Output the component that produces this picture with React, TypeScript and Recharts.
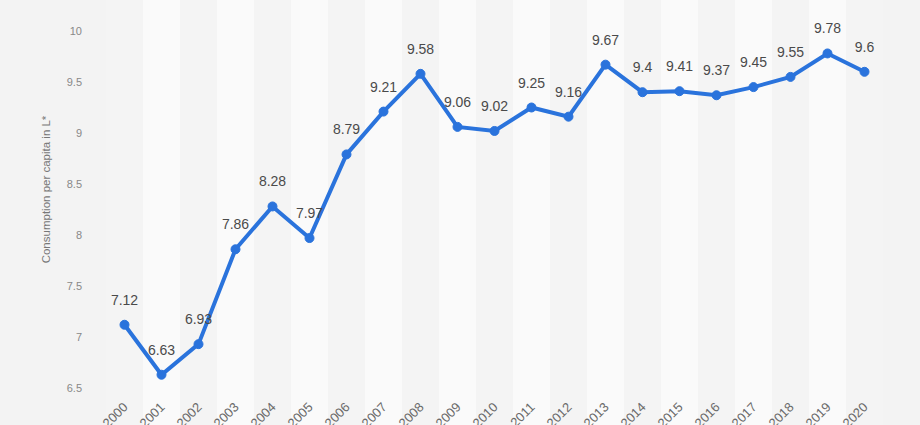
import React from 'react';
import { ComposedChart, Line, Bar, XAxis, YAxis, CartesianGrid, LabelList, Label } from 'recharts';

const years = ['2000', '2001', '2002', '2003', '2004', '2005', '2006', '2007', '2008', '2009', '2010',
    '2011', '2012', '2013', '2014', '2015', '2016', '2017', '2018', '2019', '2020'];
const consumption = [7.12, 6.63, 6.93, 7.86, 8.28, 7.97, 8.79, 9.21, 9.58, 9.06, 9.02,
    9.25, 9.16, 9.67, 9.4, 9.41, 9.37, 9.45, 9.55, 9.78, 9.6];
const yTicks = [6.5, 7, 7.5, 8, 8.5, 9, 9.5, 10];

const font = '"Liberation Sans", Arial, Helvetica, sans-serif';

// column stripes drawn full height behind the plot
const Stripe = (props: any) => {
    const { x, width, index } = props;
    return <rect x={x} y={0} width={width} height={425} fill={index % 2 === 1 ? '#fafafa' : '#f4f4f4'} />;
};

const XTick = (props: any) => {
    const { x, y, payload } = props;
    return (
        <text x={x + 4} y={y + 12} transform={`rotate(-45, ${x + 4}, ${y + 12})`} textAnchor="end"
            fontSize={13} fill="#6a6a6a" fontFamily={font}>
            {payload.value}
        </text>
    );
};

const YTitle = (props: any) => {
    const { viewBox } = props;
    const cx = viewBox.x + 50;
    const cy = viewBox.y + viewBox.height / 2 - 20;
    return (
        <text x={cx} y={cy} transform={`rotate(-90, ${cx}, ${cy})`} textAnchor="middle"
            fontSize={11.5} fill="#777" fontFamily={font}>
            Consumption per capita in L*
        </text>
    );
};

const App: React.FC = () => {
    const data = years.map((year, i) => ({ year, value: consumption[i], band: yTicks[yTicks.length - 1] }));

    return (
        <div style={{ position: 'absolute', left: 0, top: 0, width: 920, height: 425, background: '#f3f3f3', overflow: 'hidden' }}>
            <ComposedChart width={920} height={425} data={data} barCategoryGap={0}
                margin={{ top: 31, right: 37, left: 0, bottom: 0 }}>
                <Bar dataKey="band" shape={<Stripe />} isAnimationActive={false} />
                <CartesianGrid vertical={false} stroke="#c8c8c8" strokeDasharray="1 2" />
                <XAxis dataKey="year" height={37} axisLine={false} tickLine={false} interval={0} tick={<XTick />} />
                <YAxis width={106} domain={[6.5, 10]} ticks={yTicks} axisLine={false} tickLine={false}
                    tick={{ fontSize: 11, fill: '#888', fontFamily: font }} tickMargin={18}>
                    <Label content={<YTitle />} />
                </YAxis>
                <Line dataKey="value" stroke="#2a73dc" strokeWidth={4} isAnimationActive={false}
                    dot={{ r: 4.5, fill: '#2a73dc', stroke: '#2a73dc', strokeWidth: 1 }} activeDot={false}>
                    <LabelList dataKey="value" position="top" offset={20}
                        style={{ fontSize: 14, fill: '#4a4a4a', fontFamily: font }} />
                </Line>
            </ComposedChart>
        </div>
    );
};

export default App;
